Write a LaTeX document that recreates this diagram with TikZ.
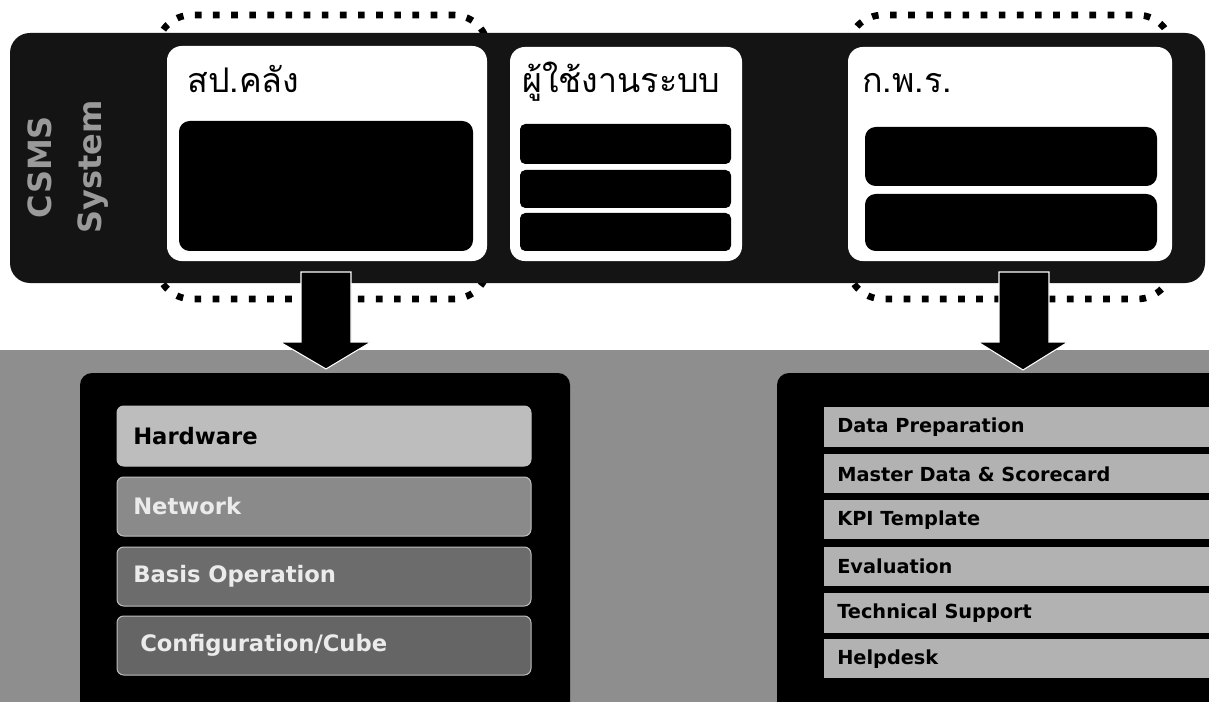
\documentclass[tikz,border=0pt]{standalone}
\usepackage{fontspec}
\setmainfont{DejaVu Sans}
\newfontfamily\thaifont[Script=Thai]{Loma}
\usetikzlibrary{fit}
\definecolor{barblack}{HTML}{141414}
\definecolor{bggray}{HTML}{8E8E8E}
\definecolor{rbargray}{HTML}{B2B2B2}
\definecolor{hwgray}{HTML}{BDBDBD}
\definecolor{nwgray}{HTML}{8A8A8A}
\definecolor{bogray}{HTML}{6C6C6C}
\definecolor{cfgray}{HTML}{656565}
\definecolor{csmsgray}{HTML}{9A9A9A}
\begin{document}
\begin{tikzpicture}[x=0.75pt,y=-0.75pt,
 topbar/.style={fill=barblack, rounded corners=15pt, inner sep=0pt},
 whitebox/.style={fill=white, rounded corners=11pt, inner sep=0pt},
 darkbox/.style={fill=black, rounded corners=8pt, inner sep=0pt},
 midbar/.style={fill=black, rounded corners=4pt, inner sep=0pt},
 panel/.style={fill=black, rounded corners=9pt, inner sep=0pt},
 lbar/.style={rounded corners=5pt, inner sep=0pt, draw=white!75!black, line width=0.75pt},
 rbar/.style={fill=rbargray, inner sep=0pt},
 ring/.style={draw=black, line width=5pt, dash pattern=on 5pt off 8.6pt, rounded corners=26pt},
 blockarrow/.style={fill=black, draw=white, line width=0.8pt},
 title/.style={font=\thaifont\fontsize{25.5}{29}\selectfont, anchor=base west, inner sep=0pt},
 ltext/.style={font=\bfseries\fontsize{17}{20}\selectfont, anchor=west, inner sep=0pt},
 rtext/.style={font=\bfseries\fontsize{14.5}{17}\selectfont, anchor=west, inner sep=0pt},
 sidetext/.style={font=\bfseries\fontsize{24}{37}\selectfont, text=csmsgray, align=center, rotate=90, inner sep=0pt}
]
\clip (0,0) rectangle (1209,702);
\fill[white] (0,0) rectangle (1209,702);
% bottom background
\fill[bggray] (0,350) rectangle (1209,702);
% dotted rings
\draw[ring] (157,15) rectangle (488,299);
\draw[ring] (848,15) rectangle (1172,299);
% top bar
\node[topbar, fit={(10,33) (1205,283)}] (bar) {};
\node[sidetext] (csms) at (68,167) {CSMS\\System};
% white boxes
\node[whitebox, fit={(167,46) (487,261)}] (box1) {};
\node[whitebox, fit={(510,47) (742,261)}] (box2) {};
\node[whitebox, fit={(848,47) (1172,261)}] (box3) {};
\node[title] (t1) at (187,93) {สป.คลัง};
\node[title] (t2) at (522,93) {ผู้ใช้งานระบบ};
\node[title] (t3) at (862,93) {ก.พ.ร.};
\node[darkbox, fit={(179,121) (473,251)}] (d1) {};
\node[midbar, fit={(520,124) (731,164)}] (m1) {};
\node[midbar, fit={(520,170) (731,208)}] (m2) {};
\node[midbar, fit={(520,213) (731,251)}] (m3) {};
\node[darkbox, fit={(865,127) (1157,186)}] (k1) {};
\node[darkbox, fit={(865,194) (1157,251)}] (k2) {};
% bottom panels
\node[panel, fit={(80,373) (570,720)}] (lp) {};
\node[panel, fit={(777,373) (1230,720)}] (rp) {};
\node[lbar, fill=hwgray, fit={(117,406) (531,466)}] (hw) {};
\node[lbar, fill=nwgray, fit={(117,477) (531,536)}] (nw) {};
\node[lbar, fill=bogray, fit={(117,547) (531,606)}] (bo) {};
\node[lbar, fill=cfgray, fit={(117,616) (531,675)}] (cf) {};
\node[ltext, text=black] at (133,436) {Hardware};
\node[ltext, text=white!92!black] at (133,506) {Network};
\node[ltext, text=white!92!black] at (133,576) {Basis Operation};
\node[ltext, text=white!92!black] at (140,645) {Configuration/Cube};
\node[rbar, fit={(824,407) (1230,447)}] (r1) {};
\node[rbar, fit={(824,454) (1230,493)}] (r2) {};
\node[rbar, fit={(824,500) (1230,539)}] (r3) {};
\node[rbar, fit={(824,547) (1230,586)}] (r4) {};
\node[rbar, fit={(824,593) (1230,633)}] (r5) {};
\node[rbar, fit={(824,639) (1230,678)}] (r6) {};
\node[rtext] at (837,427) {Data Preparation};
\node[rtext] at (837,474) {Master Data \& Scorecard};
\node[rtext] at (837,520) {KPI Template};
\node[rtext] at (837,566) {Evaluation};
\node[rtext] at (837,613) {Technical Support};
\node[rtext] at (837,659) {Helpdesk};
% block arrows
\draw[blockarrow] (301,272) -- (351,272) -- (351,342) -- (371,342) -- (326,369) -- (280,342) -- (301,342) -- cycle;
\draw[blockarrow] (999,272) -- (1049,272) -- (1049,342) -- (1068,342) -- (1023,370) -- (978,342) -- (999,342) -- cycle;
\end{tikzpicture}
\end{document}
